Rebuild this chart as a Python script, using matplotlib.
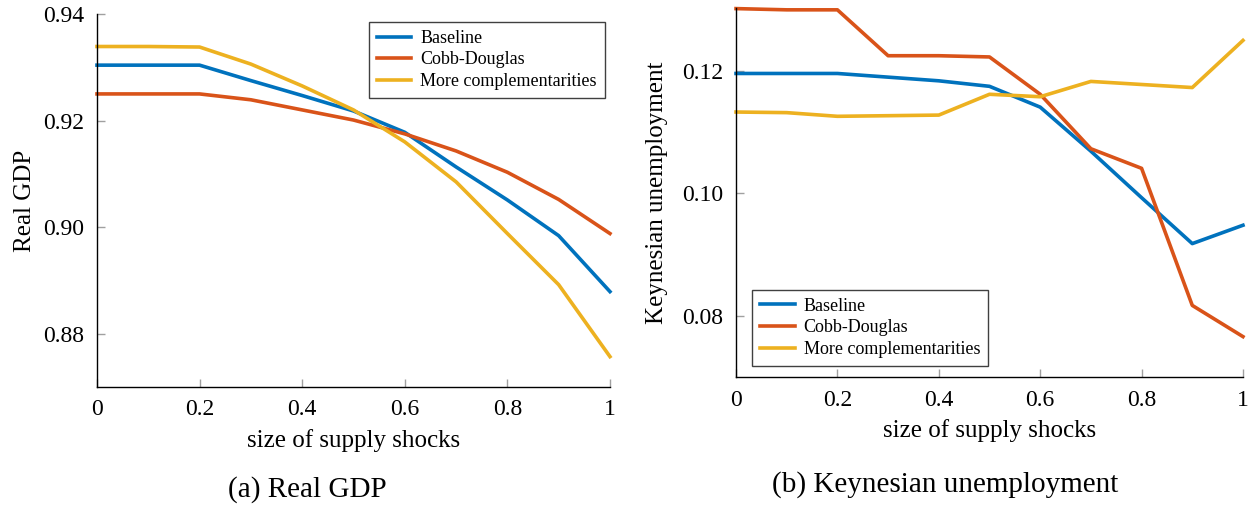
import matplotlib
matplotlib.use('Agg')
import matplotlib.pyplot as plt
import numpy as np

shock_size = [0.0, 0.1, 0.2, 0.3, 0.4, 0.5, 0.6, 0.7, 0.8, 0.9, 1.0]
series_names = ["Baseline", "Cobb-Douglas", "More complementarities"]

gdp_baseline = [0.9304, 0.9304, 0.9304, 0.9275, 0.9247, 0.9218, 0.9178, 0.9113, 0.9051, 0.8984, 0.8879]
gdp_cobb = [0.9250, 0.9250, 0.9250, 0.9239, 0.9220, 0.9201, 0.9175, 0.9143, 0.9103, 0.9052, 0.8988]
gdp_morecomp = [0.9339, 0.9339, 0.9338, 0.9306, 0.9265, 0.9220, 0.9160, 0.9085, 0.8988, 0.8892, 0.8757]

unemp_baseline = [0.1196, 0.1196, 0.1196, 0.1190, 0.1184, 0.1175, 0.1141, 0.1069, 0.0993, 0.0918, 0.0948]
unemp_cobb = [0.1302, 0.1300, 0.1300, 0.1225, 0.1225, 0.1223, 0.1162, 0.1073, 0.1041, 0.0817, 0.0766]
unemp_morecomp = [0.1133, 0.1132, 0.1126, 0.1127, 0.1128, 0.1162, 0.1158, 0.1183, 0.1178, 0.1173, 0.1250]

colors = ['#0072BD', '#D95319', '#EDB120']

plt.rcParams['font.family'] = ['Liberation Serif', 'DejaVu Serif']

fig = plt.figure(figsize=(12.53, 5.09), dpi=100)
ax1 = fig.add_axes([0.0774, 0.2397, 0.4094, 0.7328])
ax2 = fig.add_axes([0.5874, 0.2593, 0.4046, 0.7250])


def style_axis(ax):
    ax.spines['top'].set_visible(False)
    ax.spines['right'].set_visible(False)
    for s in ['left', 'bottom']:
        ax.spines[s].set_linewidth(1.0)
        ax.spines[s].set_color('black')
    ax.tick_params(direction='in', length=6, width=1, color='#a0a0a0',
                   labelsize=17, labelcolor='black', pad=9)
    ax.set_xlim(0, 1)
    ax.set_xticks([0, 0.2, 0.4, 0.6, 0.8, 1])
    ax.set_xticklabels(['0', '0.2', '0.4', '0.6', '0.8', '1'])


def legend(ax, **kw):
    leg = ax.legend(fontsize=13, frameon=True, fancybox=False, framealpha=1,
                    edgecolor='#404040', handlelength=1.9, handletextpad=0.5,
                    borderpad=0.45, labelspacing=0.25, borderaxespad=0, **kw)
    leg.get_frame().set_linewidth(1.0)


for vals, name, c in zip([gdp_baseline, gdp_cobb, gdp_morecomp], series_names, colors):
    ax1.plot(shock_size, vals, color=c, lw=2.6, label=name, clip_on=False)
style_axis(ax1)
ax1.set_ylim(0.87, 0.94)
ax1.set_yticks([0.88, 0.90, 0.92, 0.94])
ax1.set_yticklabels(['0.88', '0.90', '0.92', '0.94'])
ax1.set_ylabel('Real GDP', fontsize=18, labelpad=5)
ax1.set_xlabel('size of supply shocks', fontsize=18, labelpad=6)
legend(ax1, loc='upper right', bbox_to_anchor=(0.990, 0.979))

for vals, name, c in zip([unemp_baseline, unemp_cobb, unemp_morecomp], series_names, colors):
    ax2.plot(shock_size, vals, color=c, lw=2.6, label=name, clip_on=False)
style_axis(ax2)
ax2.set_ylim(0.07, 0.1303)
ax2.set_yticks([0.08, 0.10, 0.12])
ax2.set_yticklabels(['0.08', '0.10', '0.12'])
ax2.set_ylabel('Keynesian unemployment', fontsize=18, labelpad=10)
ax2.set_xlabel('size of supply shocks', fontsize=18, labelpad=6)
legend(ax2, loc='lower left', bbox_to_anchor=(0.032, 0.030))

fig.text(307 / 1253, 1 - 490 / 509, '(a) Real GDP', fontsize=21, ha='center', va='center')
fig.text(945 / 1253, 1 - 485 / 509, '(b) Keynesian unemployment', fontsize=21, ha='center', va='center')

fig.savefig('out.png', dpi=100)
